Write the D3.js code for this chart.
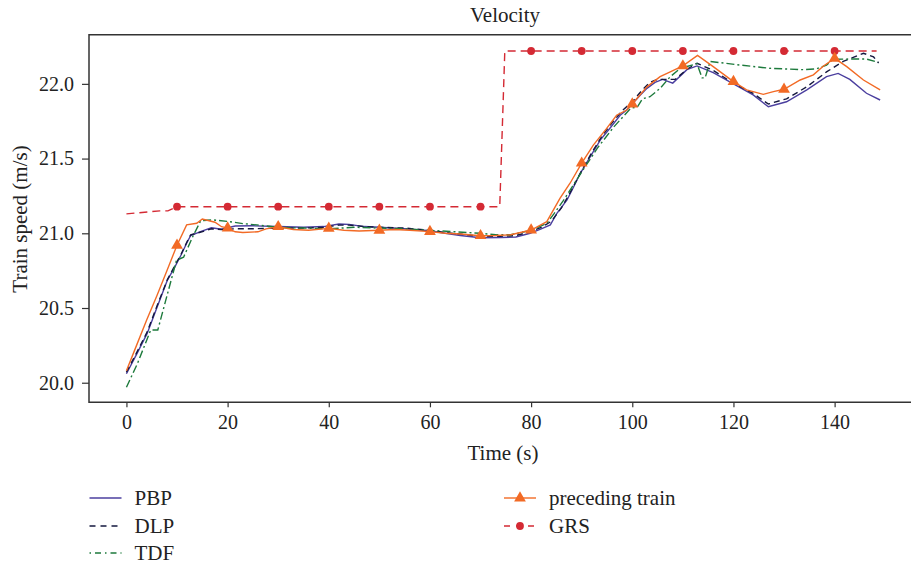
<!DOCTYPE html>
<html>
<head>
<meta charset="utf-8">
<script src="https://cdn.jsdelivr.net/npm/d3@7"></script>
<style>
  body { margin: 0; background: #fff; }
  svg { font-family: "Liberation Serif", "DejaVu Serif", serif; }
</style>
</head>
<body>
<div class="graph"></div>
<script>
var width = 911;
var height = 567;

// time (s), train speed (m/s)
var pbp = [[0,20.06],[2,20.19],[4.1,20.33],[6,20.50],[8.1,20.687],[9.5,20.77],[10.8,20.855],[12,20.94],[12.7,20.985],
  [14.9,21.015],[16.8,21.037],[18.8,21.027],[21.5,21.049],[25,21.05],[30,21.045],[35,21.04],[39,21.045],[42,21.062],
  [44,21.06],[47,21.045],[50,21.04],[55,21.03],[60,21.017],[63,21.0],[66,20.985],[70,20.97],[74,20.972],[77,20.975],
  [79.8,21.0],[82,21.03],[83.8,21.056],[85.1,21.134],[87.1,21.223],[88.4,21.31],[89.7,21.40],[91.7,21.513],
  [93.7,21.625],[95.5,21.70],[97.6,21.79],[98.9,21.825],[101.6,21.926],[102.9,21.97],[104.5,22.01],[106,22.03],
  [108,22.005],[110.8,22.095],[112.8,22.12],[116,22.075],[120,22.0],[123.9,21.926],[126.9,21.847],[130.5,21.88],
  [134.5,21.96],[138.4,22.048],[140.7,22.07],[143,22.03],[146.3,21.937],[149,21.892]];

var dlp = [[0,20.07],[2,20.2],[4.1,20.34],[6,20.51],[8.1,20.69],[9.5,20.78],[10.8,20.86],[12,20.945],[12.7,20.99],
  [14.9,21.01],[16.8,21.03],[18.8,21.025],[21.5,21.03],[25,21.03],[30,21.035],[35,21.035],[39,21.04],[42,21.055],
  [44,21.055],[47,21.045],[50,21.04],[55,21.035],[60,21.02],[63,21.005],[66,20.995],[70,20.98],[74,20.98],
  [77,20.985],[79.8,21.01],[82,21.04],[84,21.08],[86,21.17],[88,21.29],[90,21.42],[92,21.54],[94,21.65],[96,21.74],
  [98,21.82],[100,21.88],[102,21.96],[103.5,22.01],[105,22.03],[107,22.03],[108.5,22.03],[110.8,22.098],
  [112.8,22.138],[116,22.09],[120,22.004],[123.9,21.936],[126.9,21.865],[130.5,21.9],[134.5,21.98],[138.4,22.08],
  [141.7,22.15],[145.7,22.205],[147.7,22.18],[148.7,22.14]];

var tdf = [[0,19.97],[2.2,20.13],[4.8,20.353],[6.2,20.353],[9.9,20.82],[11.3,20.84],[13.1,20.977],[14.7,21.085],
  [17,21.09],[20.4,21.078],[23,21.065],[25.8,21.056],[30,21.04],[35,21.035],[40,21.03],[45,21.04],
  [50,21.035],[55,21.03],[60,21.02],[65,21.01],[70,21.0],[73,20.99],[76,20.99],[80,21.02],[83.1,21.067],
  [84.5,21.13],[86.4,21.22],[89.8,21.40],[93.1,21.57],[96.4,21.714],[99.7,21.837],[101,21.845],[102,21.9],
  [103.5,21.914],[105.5,21.97],[107.5,22.048],[109.5,22.104],[112.8,22.135],[113.8,22.04],[114.4,22.04],
  [115.4,22.15],[121.3,22.126],[127.2,22.104],[133.8,22.095],[136.4,22.1],[138.4,22.126],[139.7,22.165],
  [143,22.166],[146.3,22.166],[148.6,22.145]];

var preceding = [[0,20.08],[2,20.25],[4,20.42],[6,20.58],[8,20.75],[10,20.92],[11.9,21.056],[13.9,21.067],
  [15,21.096],[17.5,21.074],[18.8,21.044],[20,21.035],[21.5,21.01],[23,21.005],[26,21.01],[27.6,21.03],[30,21.044],
  [33,21.025],[36,21.02],[40,21.033],[43,21.02],[46,21.015],[50,21.02],[53,21.025],[56,21.02],[60,21.011],[63,21.0],
  [66,20.995],[70,20.984],[73,20.985],[76,20.99],[80,21.022],[83.1,21.078],[85.7,21.234],[87.7,21.335],[90,21.469],
  [92.3,21.59],[94.9,21.70],[96.9,21.79],[98.9,21.825],[100,21.865],[102.9,21.98],[105.5,22.048],[107.5,22.08],
  [110,22.12],[112.9,22.19],[116,22.115],[120,22.015],[122.6,21.96],[125.9,21.93],[127.9,21.948],[130,21.964],
  [133.2,22.026],[135.8,22.06],[137.8,22.12],[140,22.17],[142.4,22.115],[145.7,22.026],[149,21.96]];

var grs = [[0,21.13],[6.6,21.15],[8.2,21.15],[10,21.178],[20,21.178],[30,21.178],[40,21.178],[50,21.178],
  [60,21.178],[70,21.178],[73.8,21.178],[74.8,22.22],[80,22.22],[90,22.22],[100,22.22],[110,22.22],[120,22.22],
  [130,22.22],[140,22.22],[148.3,22.22]];

var markerTimes = [10,20,30,40,50,60,70,80,90,100,110,120,130,140];
var xTicks = [0,20,40,60,80,100,120,140];
var yTicks = [20.0,20.5,21.0,21.5,22.0];

var svg = d3.select(".graph").append("svg")
  .attr("width", width)
  .attr("height", height);

var plotLeft = 89, plotTop = 34.7, plotBottom = 402.3;

var x = d3.scaleLinear()
  .domain([-7.4, 155.1])
  .range([plotLeft, width]);

var y = d3.scaleLinear()
  .domain([19.869, 22.329])
  .range([plotBottom, plotTop]);

var line = d3.line()
  .x(d => x(d[0]))
  .y(d => y(d[1]));

// frame (open on the right)
svg.append("path")
  .attr("d", "M" + width + "," + plotTop + "H" + plotLeft + "V" + plotBottom + "H" + width)
  .attr("fill", "none")
  .attr("stroke", "#333")
  .attr("stroke-width", 1.5);

var xAxis = svg.append("g")
  .attr("transform", "translate(0," + plotBottom + ")")
  .call(d3.axisBottom(x).tickValues(xTicks).tickSize(5).tickPadding(8));
xAxis.select(".domain").remove();

var yAxis = svg.append("g")
  .attr("transform", "translate(" + plotLeft + ",0)")
  .call(d3.axisLeft(y).tickValues(yTicks).tickFormat(d3.format(".1f")).tickSize(7).tickPadding(8));
yAxis.select(".domain").remove();

svg.selectAll(".tick line").attr("stroke", "#333").attr("stroke-width", 1.2);
svg.selectAll(".tick text")
  .style("font-family", "'Liberation Serif', serif")
  .style("font-size", "20px")
  .attr("fill", "#222");

var series = [
  {name: "PBP", data: pbp, color: "#4b3f9f", dash: null},
  {name: "DLP", data: dlp, color: "#15183f", dash: "6,4"},
  {name: "TDF", data: tdf, color: "#1d7a3c", dash: "8,3,2,3"},
  {name: "GRS", data: grs, color: "#d42a34", dash: "8,5"},
  {name: "preceding train", data: preceding, color: "#f26a25", dash: null}
];

series.forEach(function(s) {
  svg.append("path")
    .datum(s.data)
    .attr("fill", "none")
    .attr("stroke", s.color)
    .attr("stroke-width", 1.4)
    .attr("stroke-dasharray", s.dash)
    .attr("d", line);
});

var triangle = d3.symbol().type(d3.symbolTriangle).size(60);

svg.selectAll(".grsdot")
  .data(grs.filter(d => markerTimes.indexOf(d[0]) >= 0))
  .enter().append("circle")
  .attr("cx", d => x(d[0]))
  .attr("cy", d => y(d[1]))
  .attr("r", 3.9)
  .attr("fill", "#d42a34");

svg.selectAll(".tri")
  .data(preceding.filter(d => markerTimes.indexOf(d[0]) >= 0))
  .enter().append("path")
  .attr("d", triangle)
  .attr("transform", d => "translate(" + x(d[0]) + "," + y(d[1]) + ")")
  .attr("fill", "#f26a25");

svg.append("text")
  .attr("x", 505).attr("y", 22)
  .style("text-anchor", "middle")
  .style("font-size", "21px")
  .attr("fill", "#222")
  .text("Velocity");

svg.append("text")
  .attr("x", 503).attr("y", 460)
  .style("text-anchor", "middle")
  .style("font-size", "21px")
  .attr("fill", "#222")
  .text("Time (s)");

svg.append("text")
  .attr("transform", "translate(27,219) rotate(-90)")
  .style("text-anchor", "middle")
  .style("font-size", "21px")
  .attr("fill", "#222")
  .text("Train speed (m/s)");

// legend
var legend = [
  {s: series[0], x: 89.5, y: 498},
  {s: series[1], x: 89.5, y: 526},
  {s: series[2], x: 89.5, y: 553},
  {s: series[4], x: 504, y: 498, marker: "tri"},
  {s: series[3], x: 504, y: 526, marker: "dot"}
];

legend.forEach(function(l) {
  var g = svg.append("g").attr("transform", "translate(" + l.x + "," + l.y + ")");
  g.append("line")
    .attr("x1", 0).attr("x2", 32)
    .attr("stroke", l.s.color)
    .attr("stroke-width", 1.4)
    .attr("stroke-dasharray", l.s.dash ? (l.s.name == "DLP" ? "6,5" : l.s.name == "TDF" ? "1.5,4,6,4" : "6,6") : null);
  if (l.marker == "tri") {
    g.append("path").attr("d", triangle).attr("transform", "translate(16,0)").attr("fill", l.s.color);
  } else if (l.marker == "dot") {
    g.append("circle").attr("cx", 16).attr("r", 3.9).attr("fill", l.s.color);
  }
  g.append("text")
    .attr("x", 45)
    .attr("dy", "0.35em")
    .style("font-size", "21px")
    .attr("fill", "#222")
    .text(l.s.name);
});
</script>
</body>
</html>
